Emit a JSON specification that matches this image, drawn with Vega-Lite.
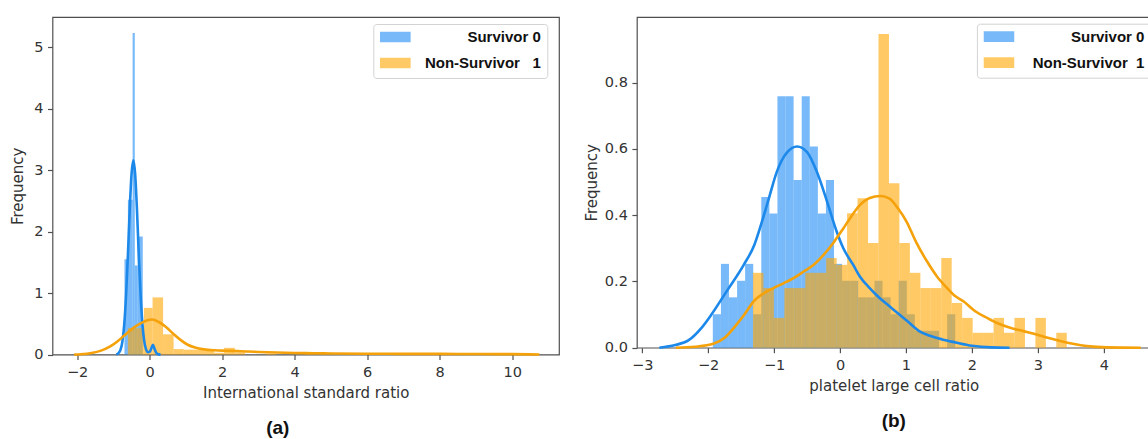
{
  "$schema": "https://vega.github.io/schema/vega-lite/v6.json",
  "background": "white",
  "padding": {"left": 9.5, "top": 16, "right": 0, "bottom": 0},
  "spacing": 22.4,
  "datasets": {
    "barsA": [
      {"start": -0.695, "end": -0.6, "freq": 1.55, "group": "Survivor 0"},
      {"start": -0.6, "end": -0.47, "freq": 2.52, "group": "Survivor 0"},
      {"start": -0.47, "end": -0.41, "freq": 5.23, "group": "Survivor 0"},
      {"start": -0.41, "end": -0.33, "freq": 1.45, "group": "Survivor 0"},
      {"start": -0.33, "end": -0.19, "freq": 1.92, "group": "Survivor 0"},
      {"start": -0.6, "end": -0.38, "freq": 0.43, "group": "Non-Survivor 1"},
      {"start": -0.38, "end": -0.16, "freq": 0.43, "group": "Non-Survivor 1"},
      {"start": -0.16, "end": 0.08, "freq": 0.76, "group": "Non-Survivor 1"},
      {"start": 0.08, "end": 0.37, "freq": 0.93, "group": "Non-Survivor 1"},
      {"start": 0.37, "end": 0.66, "freq": 0.33, "group": "Non-Survivor 1"},
      {"start": 0.66, "end": 0.94, "freq": 0.09, "group": "Non-Survivor 1"},
      {"start": 0.94, "end": 1.22, "freq": 0.08, "group": "Non-Survivor 1"},
      {"start": 1.22, "end": 1.5, "freq": 0.08, "group": "Non-Survivor 1"},
      {"start": 1.5, "end": 1.78, "freq": 0.06, "group": "Non-Survivor 1"},
      {"start": 1.78, "end": 2.05, "freq": 0.03, "group": "Non-Survivor 1"},
      {"start": 2.05, "end": 2.35, "freq": 0.11, "group": "Non-Survivor 1"},
      {"start": 2.35, "end": 2.63, "freq": 0.03, "group": "Non-Survivor 1"},
      {"start": 3.2, "end": 3.48, "freq": 0.015, "group": "Non-Survivor 1"},
      {"start": 4.3, "end": 4.58, "freq": 0.015, "group": "Non-Survivor 1"},
      {"start": 9.05, "end": 9.33, "freq": 0.015, "group": "Non-Survivor 1"}
    ],
    "kdeA": [
      {"x": -0.92, "density": 0.0, "group": "Survivor 0"},
      {"x": -0.85, "density": 0.03, "group": "Survivor 0"},
      {"x": -0.8, "density": 0.085, "group": "Survivor 0"},
      {"x": -0.75, "density": 0.22, "group": "Survivor 0"},
      {"x": -0.7, "density": 0.5, "group": "Survivor 0"},
      {"x": -0.65, "density": 0.97, "group": "Survivor 0"},
      {"x": -0.6, "density": 1.62, "group": "Survivor 0"},
      {"x": -0.55, "density": 2.35, "group": "Survivor 0"},
      {"x": -0.5, "density": 2.93, "group": "Survivor 0"},
      {"x": -0.45, "density": 3.16, "group": "Survivor 0"},
      {"x": -0.4, "density": 2.93, "group": "Survivor 0"},
      {"x": -0.35, "density": 2.35, "group": "Survivor 0"},
      {"x": -0.3, "density": 1.62, "group": "Survivor 0"},
      {"x": -0.25, "density": 0.97, "group": "Survivor 0"},
      {"x": -0.2, "density": 0.5, "group": "Survivor 0"},
      {"x": -0.15, "density": 0.22, "group": "Survivor 0"},
      {"x": -0.1, "density": 0.085, "group": "Survivor 0"},
      {"x": -0.05, "density": 0.04, "group": "Survivor 0"},
      {"x": 0.0, "density": 0.045, "group": "Survivor 0"},
      {"x": 0.05, "density": 0.11, "group": "Survivor 0"},
      {"x": 0.09, "density": 0.16, "group": "Survivor 0"},
      {"x": 0.13, "density": 0.1, "group": "Survivor 0"},
      {"x": 0.18, "density": 0.03, "group": "Survivor 0"},
      {"x": 0.22, "density": 0.01, "group": "Survivor 0"},
      {"x": 0.3, "density": 0.0, "group": "Survivor 0"},
      {"x": -2.08, "density": 0.0, "group": "Non-Survivor 1"},
      {"x": -1.9, "density": 0.005, "group": "Non-Survivor 1"},
      {"x": -1.6, "density": 0.025, "group": "Non-Survivor 1"},
      {"x": -1.34, "density": 0.065, "group": "Non-Survivor 1"},
      {"x": -1.1, "density": 0.13, "group": "Non-Survivor 1"},
      {"x": -0.9, "density": 0.21, "group": "Non-Survivor 1"},
      {"x": -0.7, "density": 0.31, "group": "Non-Survivor 1"},
      {"x": -0.5, "density": 0.41, "group": "Non-Survivor 1"},
      {"x": -0.3, "density": 0.49, "group": "Non-Survivor 1"},
      {"x": -0.1, "density": 0.55, "group": "Non-Survivor 1"},
      {"x": 0.07, "density": 0.57, "group": "Non-Survivor 1"},
      {"x": 0.25, "density": 0.53, "group": "Non-Survivor 1"},
      {"x": 0.45, "density": 0.45, "group": "Non-Survivor 1"},
      {"x": 0.65, "density": 0.34, "group": "Non-Survivor 1"},
      {"x": 0.85, "density": 0.24, "group": "Non-Survivor 1"},
      {"x": 1.05, "density": 0.16, "group": "Non-Survivor 1"},
      {"x": 1.25, "density": 0.115, "group": "Non-Survivor 1"},
      {"x": 1.5, "density": 0.085, "group": "Non-Survivor 1"},
      {"x": 1.8, "density": 0.07, "group": "Non-Survivor 1"},
      {"x": 2.1, "density": 0.063, "group": "Non-Survivor 1"},
      {"x": 2.4, "density": 0.057, "group": "Non-Survivor 1"},
      {"x": 2.7, "density": 0.05, "group": "Non-Survivor 1"},
      {"x": 3.0, "density": 0.043, "group": "Non-Survivor 1"},
      {"x": 3.5, "density": 0.034, "group": "Non-Survivor 1"},
      {"x": 4.0, "density": 0.027, "group": "Non-Survivor 1"},
      {"x": 4.5, "density": 0.022, "group": "Non-Survivor 1"},
      {"x": 5.0, "density": 0.018, "group": "Non-Survivor 1"},
      {"x": 6.0, "density": 0.014, "group": "Non-Survivor 1"},
      {"x": 7.0, "density": 0.012, "group": "Non-Survivor 1"},
      {"x": 8.0, "density": 0.011, "group": "Non-Survivor 1"},
      {"x": 9.0, "density": 0.01, "group": "Non-Survivor 1"},
      {"x": 10.0, "density": 0.007, "group": "Non-Survivor 1"},
      {"x": 10.75, "density": 0.001, "group": "Non-Survivor 1"}
    ],
    "barsB": [
      {"start": -1.929, "end": -1.806, "freq": 0.101, "group": "Survivor 0"},
      {"start": -1.806, "end": -1.684, "freq": 0.253, "group": "Survivor 0"},
      {"start": -1.684, "end": -1.561, "freq": 0.152, "group": "Survivor 0"},
      {"start": -1.561, "end": -1.439, "freq": 0.202, "group": "Survivor 0"},
      {"start": -1.439, "end": -1.316, "freq": 0.253, "group": "Survivor 0"},
      {"start": -1.316, "end": -1.194, "freq": 0.101, "group": "Survivor 0"},
      {"start": -1.194, "end": -1.071, "freq": 0.455, "group": "Survivor 0"},
      {"start": -1.071, "end": -0.949, "freq": 0.405, "group": "Survivor 0"},
      {"start": -0.949, "end": -0.826, "freq": 0.759, "group": "Survivor 0"},
      {"start": -0.826, "end": -0.704, "freq": 0.759, "group": "Survivor 0"},
      {"start": -0.704, "end": -0.581, "freq": 0.506, "group": "Survivor 0"},
      {"start": -0.581, "end": -0.459, "freq": 0.759, "group": "Survivor 0"},
      {"start": -0.459, "end": -0.336, "freq": 0.607, "group": "Survivor 0"},
      {"start": -0.336, "end": -0.214, "freq": 0.405, "group": "Survivor 0"},
      {"start": -0.214, "end": -0.091, "freq": 0.506, "group": "Survivor 0"},
      {"start": -0.091, "end": 0.031, "freq": 0.253, "group": "Survivor 0"},
      {"start": 0.031, "end": 0.154, "freq": 0.202, "group": "Survivor 0"},
      {"start": 0.154, "end": 0.276, "freq": 0.202, "group": "Survivor 0"},
      {"start": 0.276, "end": 0.399, "freq": 0.152, "group": "Survivor 0"},
      {"start": 0.399, "end": 0.522, "freq": 0.152, "group": "Survivor 0"},
      {"start": 0.522, "end": 0.644, "freq": 0.202, "group": "Survivor 0"},
      {"start": 0.644, "end": 0.767, "freq": 0.152, "group": "Survivor 0"},
      {"start": 0.767, "end": 0.889, "freq": 0.101, "group": "Survivor 0"},
      {"start": 0.889, "end": 1.012, "freq": 0.202, "group": "Survivor 0"},
      {"start": 1.012, "end": 1.134, "freq": 0.101, "group": "Survivor 0"},
      {"start": 1.134, "end": 1.257, "freq": 0.051, "group": "Survivor 0"},
      {"start": 1.257, "end": 1.379, "freq": 0.051, "group": "Survivor 0"},
      {"start": 1.379, "end": 1.502, "freq": 0.051, "group": "Survivor 0"},
      {"start": 1.624, "end": 1.747, "freq": 0.101, "group": "Survivor 0"},
      {"start": -1.32, "end": -1.161, "freq": 0.226, "group": "Non-Survivor 1"},
      {"start": -1.161, "end": -1.003, "freq": 0.18, "group": "Non-Survivor 1"},
      {"start": -1.003, "end": -0.844, "freq": 0.09, "group": "Non-Survivor 1"},
      {"start": -0.844, "end": -0.686, "freq": 0.18, "group": "Non-Survivor 1"},
      {"start": -0.686, "end": -0.527, "freq": 0.18, "group": "Non-Survivor 1"},
      {"start": -0.527, "end": -0.368, "freq": 0.226, "group": "Non-Survivor 1"},
      {"start": -0.368, "end": -0.21, "freq": 0.226, "group": "Non-Survivor 1"},
      {"start": -0.21, "end": -0.051, "freq": 0.271, "group": "Non-Survivor 1"},
      {"start": -0.051, "end": 0.107, "freq": 0.25, "group": "Non-Survivor 1"},
      {"start": 0.107, "end": 0.266, "freq": 0.406, "group": "Non-Survivor 1"},
      {"start": 0.266, "end": 0.425, "freq": 0.451, "group": "Non-Survivor 1"},
      {"start": 0.425, "end": 0.583, "freq": 0.316, "group": "Non-Survivor 1"},
      {"start": 0.583, "end": 0.742, "freq": 0.947, "group": "Non-Survivor 1"},
      {"start": 0.742, "end": 0.9, "freq": 0.496, "group": "Non-Survivor 1"},
      {"start": 0.9, "end": 1.059, "freq": 0.316, "group": "Non-Survivor 1"},
      {"start": 1.059, "end": 1.218, "freq": 0.226, "group": "Non-Survivor 1"},
      {"start": 1.218, "end": 1.376, "freq": 0.18, "group": "Non-Survivor 1"},
      {"start": 1.376, "end": 1.535, "freq": 0.18, "group": "Non-Survivor 1"},
      {"start": 1.535, "end": 1.693, "freq": 0.271, "group": "Non-Survivor 1"},
      {"start": 1.693, "end": 1.852, "freq": 0.135, "group": "Non-Survivor 1"},
      {"start": 1.852, "end": 2.011, "freq": 0.09, "group": "Non-Survivor 1"},
      {"start": 2.011, "end": 2.169, "freq": 0.045, "group": "Non-Survivor 1"},
      {"start": 2.169, "end": 2.328, "freq": 0.045, "group": "Non-Survivor 1"},
      {"start": 2.328, "end": 2.486, "freq": 0.09, "group": "Non-Survivor 1"},
      {"start": 2.486, "end": 2.645, "freq": 0.045, "group": "Non-Survivor 1"},
      {"start": 2.645, "end": 2.804, "freq": 0.09, "group": "Non-Survivor 1"},
      {"start": 2.962, "end": 3.121, "freq": 0.09, "group": "Non-Survivor 1"},
      {"start": 3.279, "end": 3.438, "freq": 0.045, "group": "Non-Survivor 1"}
    ],
    "kdeB": [
      {"x": -2.74, "density": 0.0, "group": "Survivor 0"},
      {"x": -2.5, "density": 0.008, "group": "Survivor 0"},
      {"x": -2.3, "density": 0.022, "group": "Survivor 0"},
      {"x": -2.1, "density": 0.06, "group": "Survivor 0"},
      {"x": -1.95, "density": 0.1, "group": "Survivor 0"},
      {"x": -1.72, "density": 0.17, "group": "Survivor 0"},
      {"x": -1.46, "density": 0.25, "group": "Survivor 0"},
      {"x": -1.3, "density": 0.31, "group": "Survivor 0"},
      {"x": -1.2, "density": 0.37, "group": "Survivor 0"},
      {"x": -1.08, "density": 0.45, "group": "Survivor 0"},
      {"x": -0.96, "density": 0.53, "group": "Survivor 0"},
      {"x": -0.8, "density": 0.59, "group": "Survivor 0"},
      {"x": -0.65, "density": 0.607, "group": "Survivor 0"},
      {"x": -0.5, "density": 0.59, "group": "Survivor 0"},
      {"x": -0.35, "density": 0.53, "group": "Survivor 0"},
      {"x": -0.2, "density": 0.443, "group": "Survivor 0"},
      {"x": -0.05, "density": 0.35, "group": "Survivor 0"},
      {"x": 0.05, "density": 0.3, "group": "Survivor 0"},
      {"x": 0.2, "density": 0.25, "group": "Survivor 0"},
      {"x": 0.3, "density": 0.215, "group": "Survivor 0"},
      {"x": 0.45, "density": 0.18, "group": "Survivor 0"},
      {"x": 0.6, "density": 0.15, "group": "Survivor 0"},
      {"x": 0.75, "density": 0.125, "group": "Survivor 0"},
      {"x": 0.9, "density": 0.1, "group": "Survivor 0"},
      {"x": 1.05, "density": 0.075, "group": "Survivor 0"},
      {"x": 1.2, "density": 0.05, "group": "Survivor 0"},
      {"x": 1.35, "density": 0.037, "group": "Survivor 0"},
      {"x": 1.55, "density": 0.025, "group": "Survivor 0"},
      {"x": 1.75, "density": 0.016, "group": "Survivor 0"},
      {"x": 2.0, "density": 0.006, "group": "Survivor 0"},
      {"x": 2.3, "density": 0.001, "group": "Survivor 0"},
      {"x": 2.57, "density": 0.0, "group": "Survivor 0"},
      {"x": -2.49, "density": 0.0, "group": "Non-Survivor 1"},
      {"x": -2.2, "density": 0.003, "group": "Non-Survivor 1"},
      {"x": -1.92, "density": 0.012, "group": "Non-Survivor 1"},
      {"x": -1.75, "density": 0.03, "group": "Non-Survivor 1"},
      {"x": -1.61, "density": 0.06, "group": "Non-Survivor 1"},
      {"x": -1.45, "density": 0.1, "group": "Non-Survivor 1"},
      {"x": -1.31, "density": 0.14, "group": "Non-Survivor 1"},
      {"x": -1.15, "density": 0.165, "group": "Non-Survivor 1"},
      {"x": -1.01, "density": 0.18, "group": "Non-Survivor 1"},
      {"x": -0.85, "density": 0.195, "group": "Non-Survivor 1"},
      {"x": -0.705, "density": 0.21, "group": "Non-Survivor 1"},
      {"x": -0.55, "density": 0.23, "group": "Non-Survivor 1"},
      {"x": -0.4, "density": 0.25, "group": "Non-Survivor 1"},
      {"x": -0.25, "density": 0.28, "group": "Non-Survivor 1"},
      {"x": -0.1, "density": 0.317, "group": "Non-Survivor 1"},
      {"x": 0.05, "density": 0.36, "group": "Non-Survivor 1"},
      {"x": 0.15, "density": 0.39, "group": "Non-Survivor 1"},
      {"x": 0.3, "density": 0.43, "group": "Non-Survivor 1"},
      {"x": 0.45, "density": 0.452, "group": "Non-Survivor 1"},
      {"x": 0.61, "density": 0.458, "group": "Non-Survivor 1"},
      {"x": 0.75, "density": 0.45, "group": "Non-Survivor 1"},
      {"x": 0.88, "density": 0.42, "group": "Non-Survivor 1"},
      {"x": 1.01, "density": 0.38, "group": "Non-Survivor 1"},
      {"x": 1.15, "density": 0.32, "group": "Non-Survivor 1"},
      {"x": 1.32, "density": 0.26, "group": "Non-Survivor 1"},
      {"x": 1.47, "density": 0.215, "group": "Non-Survivor 1"},
      {"x": 1.6, "density": 0.185, "group": "Non-Survivor 1"},
      {"x": 1.75, "density": 0.155, "group": "Non-Survivor 1"},
      {"x": 1.87, "density": 0.14, "group": "Non-Survivor 1"},
      {"x": 2.05, "density": 0.11, "group": "Non-Survivor 1"},
      {"x": 2.23, "density": 0.09, "group": "Non-Survivor 1"},
      {"x": 2.4, "density": 0.073, "group": "Non-Survivor 1"},
      {"x": 2.58, "density": 0.06, "group": "Non-Survivor 1"},
      {"x": 2.78, "density": 0.05, "group": "Non-Survivor 1"},
      {"x": 2.98, "density": 0.04, "group": "Non-Survivor 1"},
      {"x": 3.15, "density": 0.03, "group": "Non-Survivor 1"},
      {"x": 3.34, "density": 0.02, "group": "Non-Survivor 1"},
      {"x": 3.55, "density": 0.011, "group": "Non-Survivor 1"},
      {"x": 3.74, "density": 0.005, "group": "Non-Survivor 1"},
      {"x": 4.05, "density": 0.001, "group": "Non-Survivor 1"},
      {"x": 4.56, "density": 0.0, "group": "Non-Survivor 1"}
    ]
  },
  "hconcat": [
    {
      "width": 506.5,
      "height": 337.6,
      "title": {"text": "(a)", "orient": "bottom", "frame": "group", "anchor": "middle", "dx": -28, "offset": 19, "font": "Liberation Sans", "fontSize": 19, "fontWeight": "bold", "color": "#111111"},
      "layer": [
        {
          "data": {"name": "barsA"},
          "mark": {"type": "rect", "opacity": 0.6},
          "encoding": {
            "x": {"field": "start", "type": "quantitative", "scale": {"domain": [-2.68, 11.29], "nice": false, "zero": false}, "axis": {"values": [-2, 0, 2, 4, 6, 8, 10], "format": "d", "title": "International standard ratio"}},
            "x2": {"field": "end"},
            "y": {"field": "freq", "type": "quantitative", "scale": {"domain": [0, 5.49], "nice": false}, "axis": {"values": [0, 1, 2, 3, 4, 5], "format": "d", "title": "Frequency", "titlePadding": 8}},
            "y2": {"datum": 0},
            "color": {"field": "group", "type": "nominal", "sort": null,
              "scale": {"domain": ["Survivor 0", "Non-Survivor 1"], "range": ["#1e8cf5", "#ffa500"]},
              "legend": {"orient": "none", "legendX": 320.8, "legendY": 7, "title": null,
                "labelExpr": "datum.label == 'Non-Survivor 1' ? 'Non-Survivor\u00a0\u00a0\u00a01' : datum.label",
                "labelOffset": 130}
            }
          }
        },
        {
          "data": {"name": "kdeA"},
          "mark": {"type": "line", "strokeWidth": 2.6, "interpolate": "monotone"},
          "encoding": {
            "x": {"field": "x", "type": "quantitative"},
            "y": {"field": "density", "type": "quantitative"},
            "stroke": {"field": "group", "type": "nominal", "scale": {"domain": ["Survivor 0", "Non-Survivor 1"], "range": ["#1c88ea", "#f5a10a"]}, "legend": null}
          }
        }
      ]
    },
    {
      "width": 513.7,
      "height": 330.7,
      "title": {"text": "(b)", "orient": "bottom", "frame": "group", "anchor": "middle", "dx": 0, "offset": 19, "font": "Liberation Sans", "fontSize": 19, "fontWeight": "bold", "color": "#111111"},
      "layer": [
        {
          "data": {"name": "barsB"},
          "mark": {"type": "rect", "opacity": 0.6},
          "encoding": {
            "x": {"field": "start", "type": "quantitative", "scale": {"domain": [-3.08, 4.709], "nice": false, "zero": false}, "axis": {"values": [-3, -2, -1, 0, 1, 2, 3, 4], "format": "d", "title": "platelet large cell ratio"}},
            "x2": {"field": "end"},
            "y": {"field": "freq", "type": "quantitative", "scale": {"domain": [0, 0.998], "nice": false}, "axis": {"values": [0, 0.2, 0.4, 0.6, 0.8], "format": ".1f", "title": "Frequency", "titlePadding": 5}},
            "y2": {"datum": 0},
            "color": {"field": "group", "type": "nominal", "sort": null,
              "scale": {"domain": ["Survivor 0", "Non-Survivor 1"], "range": ["#1e8cf5", "#ffa500"]},
              "legend": {"orient": "none", "legendX": 340, "legendY": 6.7, "title": null,
                "labelExpr": "datum.label == 'Non-Survivor 1' ? 'Non-Survivor\u00a0\u00a01' : datum.label",
                "labelOffset": 130}
            }
          }
        },
        {
          "data": {"name": "kdeB"},
          "mark": {"type": "line", "strokeWidth": 2.6, "interpolate": "monotone"},
          "encoding": {
            "x": {"field": "x", "type": "quantitative"},
            "y": {"field": "density", "type": "quantitative"},
            "stroke": {"field": "group", "type": "nominal", "scale": {"domain": ["Survivor 0", "Non-Survivor 1"], "range": ["#1c88ea", "#f5a10a"]}, "legend": null}
          }
        }
      ]
    }
  ],
  "resolve": {"scale": {"color": "independent", "stroke": "independent", "x": "independent", "y": "independent"}},
  "config": {
    "view": {"stroke": "#505050", "strokeWidth": 1.2},
    "axis": {"domain": false, "grid": false, "labelFont": "DejaVu Sans", "labelFontSize": 14.5, "labelColor": "#333333", "titleFont": "DejaVu Sans", "titleFontSize": 15, "titleFontWeight": "normal", "titleColor": "#333333", "tickColor": "#505050", "tickSize": 5, "tickWidth": 1.2},
    "axisX": {"labelPadding": 6, "titlePadding": 6},
    "axisY": {"labelPadding": 4.5},
    "legend": {"symbolType": "M-1,-0.35L1,-0.35L1,0.35L-1,0.35Z", "symbolSize": 942, "symbolStrokeWidth": 0, "symbolOpacity": 0.6, "labelFont": "Liberation Sans", "labelFontWeight": "bold", "labelFontSize": 15, "labelColor": "#111111", "labelAlign": "right", "labelBaseline": "middle", "labelLimit": 300, "clipHeight": 13, "rowPadding": 10, "padding": 6.5, "strokeColor": "#d3d3d3", "fillColor": "white", "cornerRadius": 3}
  }
}
